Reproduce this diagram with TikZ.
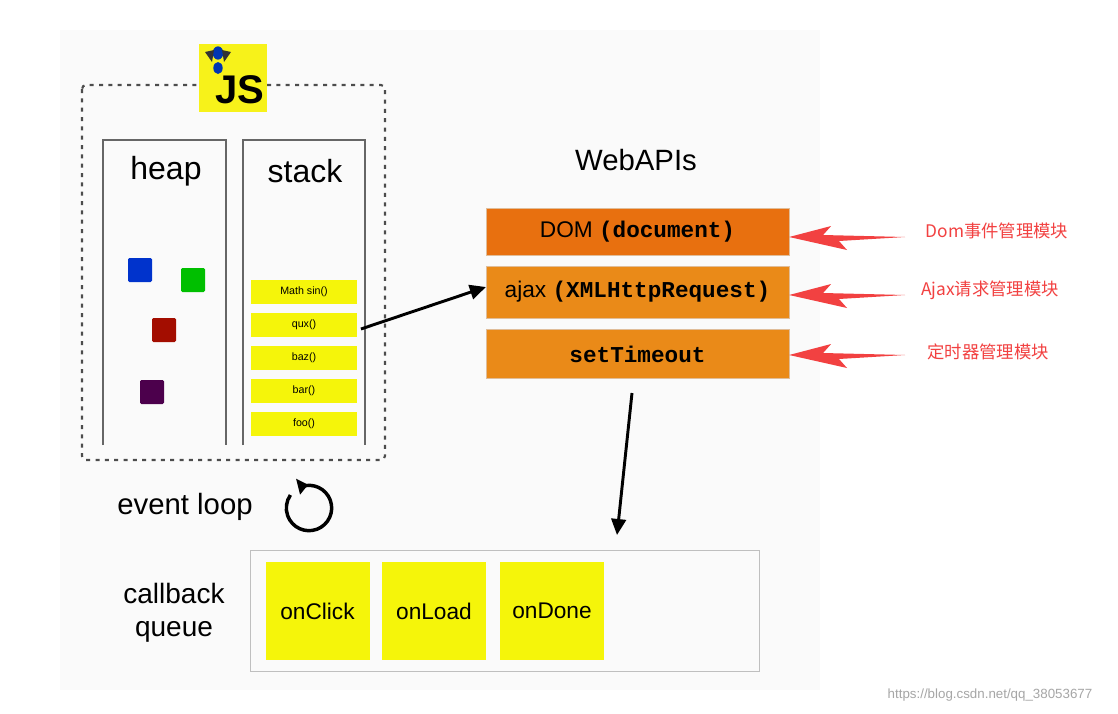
\documentclass[tikz,border=0pt]{standalone}
\usepackage{fontspec}
\setmainfont{Liberation Sans}
\setmonofont{Liberation Mono}
\newfontfamily\cjk{Noto Sans CJK SC}
\usetikzlibrary{arrows.meta}
\definecolor{jsy}{HTML}{F7F21A}
\definecolor{stky}{HTML}{F5F50A}
\definecolor{orA}{HTML}{E8700F}
\definecolor{orB}{HTML}{EA8A18}
\definecolor{redA}{HTML}{F24141}
\begin{document}
\begin{tikzpicture}[x=0.75pt,y=-0.75pt,
  col/.style={draw=black!60,line width=0.8pt},
  sq/.style={minimum size=18pt,inner sep=0pt,rounded corners=1pt},
  stk/.style={fill=stky,minimum width=79pt,minimum height=18.5pt,inner sep=0pt,font=\fontsize{8}{8}\selectfont},
  web/.style={fill=#1,draw=orange!70!black!40,minimum width=227pt,inner sep=0pt,font=\fontsize{17}{17}\selectfont},
  cb/.style={fill=stky,minimum width=78pt,minimum height=73pt,inner sep=0pt,font=\fontsize{17}{17}\selectfont},
  big/.style={font=\fontsize{24}{24}\selectfont},
  redtxt/.style={text=redA,font=\cjk\fontsize{13}{13}\selectfont},
  blk/.style={line width=2.2pt,-{Triangle[length=12pt,width=11pt]}}]
\useasboundingbox[fill=white] (0,0) rectangle (1118,714);
\fill[black!2] (60,30) rectangle (820,690);
% dashed JS box
\draw[black!70,line width=1.6pt,dash pattern=on 3pt off 4pt,rounded corners=3pt] (82,85) rectangle (385,460);
\node[fill=jsy,minimum size=51pt,inner sep=0pt] (js) at (233,78) {};
\node[font=\fontsize{30}{30}\selectfont\bfseries] (jst) at (240,90) {JS};
\fill[blue!70!cyan!70!black] (218,53) ellipse (4pt and 5pt);
\fill[blue!70!cyan!70!black] (218,68) ellipse (3.5pt and 4.5pt);
\fill[black!80] (205,52) -- (214,50) -- (212,62) -- cycle;
\fill[black!80] (231,52) -- (222,50) -- (224,62) -- cycle;
% heap / stack columns
\draw[col] (103,445) -- (103,140) -- (226,140) -- (226,445);
\draw[col] (243,445) -- (243,140) -- (365,140) -- (365,445);
\node[big] (heap) at (166,171) {heap};
\node[big] (stack) at (305,171) {stack};
\node[sq,fill=blue!75!cyan!80!black] (s1) at (140,270) {};
\node[sq,fill=green!75!black] (s2) at (193,280) {};
\node[sq,fill=red!60!black!90!orange] (s3) at (164,330) {};
\node[sq,fill=violet!60!black] (s4) at (152,392) {};
\node[stk] (m) at (304,292) {Math sin()};
\node[stk] (q) at (304,325) {qux()};
\node[stk] (b) at (304,358) {baz()};
\node[stk] (r) at (304,391) {bar()};
\node[stk] (f) at (304,424) {foo()};
% WebAPIs
\node[font=\fontsize{22}{22}\selectfont] (wa) at (636,160) {WebAPIs};
\node[web=orA,minimum height=35pt] (dom) at (637.5,231.5) {DOM \texttt{\bfseries(document)}};
\node[web=orB,minimum height=39pt] (ajax) at (637.5,292) {ajax \texttt{\bfseries(XMLHttpRequest)}};
\node[web=orB,minimum height=37pt] (st) at (637.5,354) {\texttt{\bfseries setTimeout}};
\draw[blk] (q.east) ++(3pt,-3pt) coordinate (qa) -- (ajax.west|-0,287) coordinate (ab);
% red
\node[redtxt] (t1) at (997,231) {Dom事件管理模块};
\node[redtxt] (t2) at (990,290) {Ajax请求管理模块};
\node[redtxt] (t3) at (988,352) {定时器管理模块};
\foreach \n/\y in {dom/237,ajax/295,st/355}{
  \coordinate (rt\n) at (905,\y);
  \fill[redA] (\n.east|-rt\n) -- ++(42,-11) -- ++(-8,9) -- (rt\n) -- ++(-66,4) -- ++(8,9) -- cycle;
}
% to callback queue
\coordinate (d1) at (632,393);
\draw[blk] (d1) -- (617,535);
% event loop
\node[font=\fontsize{22}{22}\selectfont] (el) at (185,507) {event loop};
\coordinate (lc) at (309,508);
\draw[line width=2.6pt] ([shift={(110:17pt)}]lc) arc (110:-215:17pt);
\fill ([shift={(100:17pt)}]lc) ++(-9,-7) -- ++(12,6) -- ++(-8,10) -- cycle;
% callback queue
\node[draw=black!25,line width=0.8pt,minimum width=382pt,minimum height=91pt,inner sep=0pt] (cq) at (505,611) {};
\node[align=center,font=\fontsize{21}{25}\selectfont] (cql) at (174,613) {callback\\queue};
\node[cb] (c1) at (317.5,611) {onClick};
\node[cb] (c2) at (434,611) {onLoad};
\node[cb] (c3) at (552,611) {onDone};
\node[text=black!35,font=\fontsize{10}{10}\selectfont] (wm) at (990,695) {https://blog.csdn.net/qq\_38053677};
\end{tikzpicture}
\end{document}
